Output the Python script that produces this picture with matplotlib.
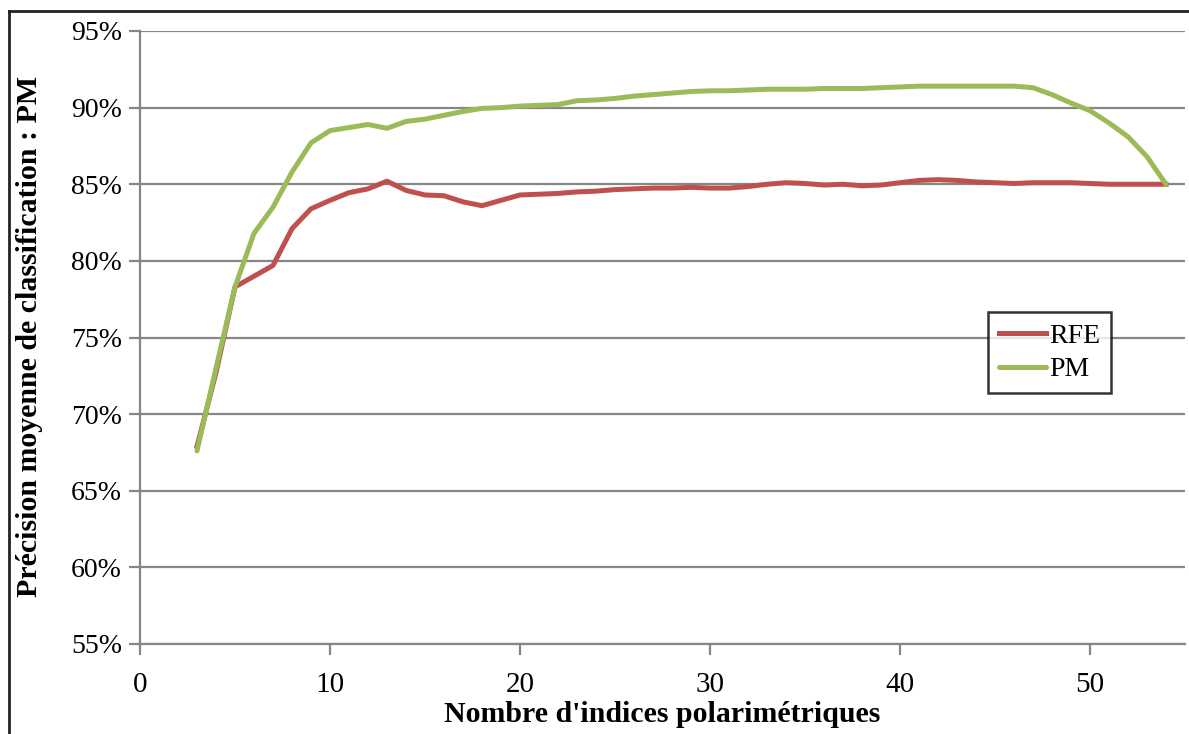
import matplotlib.pyplot as plt
from matplotlib.lines import Line2D
from matplotlib.ticker import PercentFormatter
import numpy as np

n_indices = list(range(3, 55))

rfe = [67.9, 72.7, 78.3, 79.0, 79.7, 82.1, 83.4, 83.95, 84.45, 84.7,
       85.2, 84.6, 84.3, 84.25, 83.85, 83.6, 83.95, 84.3, 84.35, 84.4,
       84.5, 84.55, 84.65, 84.7, 84.75, 84.75, 84.8, 84.75, 84.75, 84.85,
       85.0, 85.1, 85.05, 84.95, 85.0, 84.9, 84.95, 85.1, 85.25, 85.3,
       85.25, 85.15, 85.1, 85.05, 85.1, 85.1, 85.1, 85.05, 85.0, 85.0,
       85.0, 85.0]

pm = [67.6, 73.0, 78.3, 81.8, 83.5, 85.8, 87.7, 88.5, 88.7, 88.9,
      88.65, 89.1, 89.25, 89.5, 89.75, 89.95, 90.0, 90.1, 90.15, 90.2,
      90.45, 90.5, 90.6, 90.75, 90.85, 90.95, 91.05, 91.1, 91.1, 91.15,
      91.2, 91.2, 91.2, 91.25, 91.25, 91.25, 91.3, 91.35, 91.4, 91.4,
      91.4, 91.4, 91.4, 91.4, 91.3, 90.85, 90.3, 89.8, 89.0, 88.1,
      86.8, 85.0]

x_ticks = [0, 10, 20, 30, 40, 50]
y_ticks = [55, 60, 65, 70, 75, 80, 85, 90, 95]

plt.rcParams['font.family'] = ['Liberation Serif', 'DejaVu Serif']

W, H = 1189, 734
fig = plt.figure(figsize=(W / 100, H / 100), dpi=100)
ax = fig.add_axes([140 / W, (H - 644) / H, (1185 - 140) / W, (644 - 31) / H])

grid_c = '#868686'
ax.plot(n_indices, rfe, color='#C0504D', lw=3.6, label='RFE', zorder=3)
ax.plot(n_indices, pm, color='#9BBB59', lw=3.6, label='PM', zorder=3,
        solid_capstyle='round')

ax.set_xlim(0, 55)
ax.set_ylim(55, 95)
ax.set_xticks(x_ticks)
ax.set_yticks(y_ticks)
ax.yaxis.set_major_formatter(PercentFormatter(decimals=0))
ax.grid(axis='y', color=grid_c, lw=1.6)
ax.set_axisbelow(True)

for side in ('top', 'right'):
    ax.spines[side].set_visible(False)
for side in ('left', 'bottom'):
    ax.spines[side].set_color(grid_c)
    ax.spines[side].set_linewidth(1.6)

ax.tick_params(axis='both', colors=grid_c, width=1.6, length=8,
               labelcolor='black', labelsize=20)
ax.tick_params(axis='x', pad=12, labelsize=21)
ax.tick_params(axis='y', pad=5)

fig.text(662 / W, 1 - 714 / H, "Nombre d'indices polarimétriques",
         ha='center', va='center', fontsize=21.5, fontweight='bold')
fig.text(30 / W, 1 - 336 / H, 'Précision moyenne de classification : PM',
         ha='center', va='center', rotation=90, fontsize=21.5,
         fontweight='bold')

leg = ax.legend(loc='upper left', bbox_to_anchor=((988 - 140) / 1045, (644 - 312) / 613),
                fontsize=20, frameon=True, fancybox=False, handlelength=1.7,
                handletextpad=0.1, borderpad=0.4, labelspacing=0.3,
                borderaxespad=0)
leg.get_frame().set_edgecolor('black')
leg.get_frame().set_linewidth(1.8)

# outer frame (top and left edges only are visible)
fig.add_artist(Line2D([9 / W, 1], [1 - 11 / H, 1 - 11 / H], color='#222222', lw=2,
                      transform=fig.transFigure))
fig.add_artist(Line2D([9 / W, 9 / W], [0, 1 - 11 / H], color='#222222', lw=2,
                      transform=fig.transFigure))

fig.savefig('out.png', dpi=100)
